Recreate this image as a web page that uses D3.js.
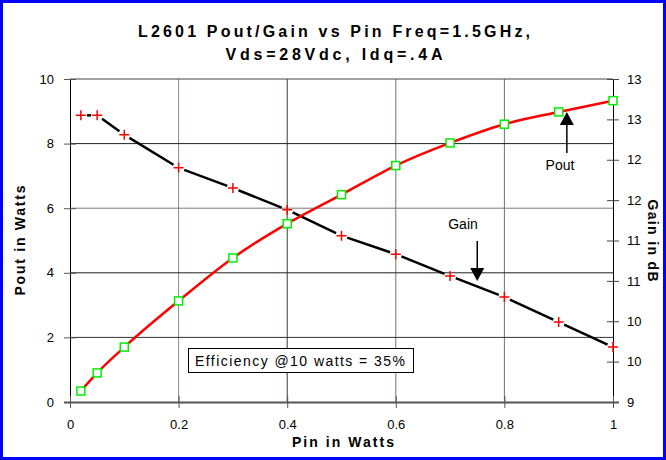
<!DOCTYPE html>
<html>
<head>
<meta charset="utf-8">
<script src="https://cdn.jsdelivr.net/npm/d3@7"></script>
<style>
  html, body { margin: 0; padding: 0; background: #fff; }
  svg { display: block; }
  text { font-family: "Liberation Sans", Arial, sans-serif; }
</style>
</head>
<body>
<svg id="chart" width="666" height="460"></svg>
<script>
// ---- data ----
const pin = [0.02, 0.05, 0.1, 0.2, 0.3, 0.4, 0.5, 0.6, 0.7, 0.8, 0.9, 1.0];
const pout = [0.34, 0.90, 1.70, 3.13, 4.46, 5.52, 6.42, 7.32, 8.02, 8.60, 8.98, 9.33];
const gain = [12.55, 12.55, 12.31, 11.90, 11.65, 11.38, 11.06, 10.83, 10.56, 10.30, 9.99, 9.68];
const xTicks = [0, 0.2, 0.4, 0.6, 0.8, 1];
const yLeftTicks = [0, 2, 4, 6, 8, 10];
const yRightTicks = [9, 9.5, 10, 10.5, 11, 11.5, 12, 12.5, 13];
const titleLines = ["L2601 Pout/Gain vs Pin Freq=1.5GHz,", "Vds=28Vdc, Idq=.4A"];
const note = "Efficiency @10 watts = 35%";

const svg = d3.select("#chart");
const L = 70, R = 613, T = 79, B = 402;

const x = d3.scaleLinear().domain([0, 1]).range([L, R]);
const yL = d3.scaleLinear().domain([0, 10]).range([B, T]);
const yR = d3.scaleLinear().domain([9, 13]).range([B, T]);

// background
svg.append("rect").attr("x", 0).attr("y", 0).attr("width", 666).attr("height", 460).attr("fill", "#fff");

// vertical gridlines
const vGridColor = {0.2: "#7d957d", 0.4: "#204a20", 0.6: "#5f7f5f", 0.8: "#5f7f5f"};
svg.append("g").selectAll("line").data(xTicks.filter(d => d > 0 && d < 1)).join("line")
  .attr("x1", d => x(d)).attr("x2", d => x(d)).attr("y1", T).attr("y2", B)
  .attr("stroke", d => vGridColor[d]).attr("stroke-width", 1);

// horizontal gridlines
const hGridColor = {2: "#333", 4: "#222", 6: "#777", 8: "#222", 10: "#444"};
svg.append("g").selectAll("line").data(yLeftTicks.filter(d => d > 0)).join("line")
  .attr("x1", L).attr("x2", R).attr("y1", d => yL(d)).attr("y2", d => yL(d))
  .attr("stroke", d => hGridColor[d]).attr("stroke-width", 1);

// left axis
const gl = svg.append("g").attr("transform", `translate(${L},0)`)
  .call(d3.axisLeft(yL).tickValues(yLeftTicks).tickFormat(d3.format("d")).tickSize(6).tickPadding(10));
gl.select(".domain").attr("stroke", "#000").attr("d", `M0.5,${T}V${B}`);
gl.selectAll(".tick line").attr("x1", 6).attr("x2", -6).attr("stroke", "#555");
gl.selectAll(".tick text").attr("font-size", 13).attr("fill", "#000").attr("font-family", "Liberation Sans, Arial, sans-serif");

// right axis
const gr = svg.append("g").attr("transform", `translate(${R},0)`)
  .call(d3.axisRight(yR).tickValues(yRightTicks).tickFormat(d3.format(".0f")).tickSize(6).tickPadding(8));
gr.select(".domain").attr("stroke", "#000").attr("d", `M0.5,${T}V${B}`);
gr.selectAll(".tick line").attr("x1", -6).attr("x2", 6).attr("stroke", "#444");
gr.selectAll(".tick text").attr("font-size", 13).attr("fill", "#000").attr("font-family", "Liberation Sans, Arial, sans-serif");

// bottom axis
const gb = svg.append("g").attr("transform", `translate(0,${B})`)
  .call(d3.axisBottom(x).tickValues(xTicks).tickFormat(d => d3.format("")(d)).tickSize(6).tickPadding(12));
gb.select(".domain").attr("stroke", "#555").attr("stroke-width", 2).attr("d", `M${L - 6},0.5H${R + 6}`);
gb.selectAll(".tick line").attr("y1", -6).attr("y2", 6).attr("stroke", "#555");
gb.selectAll(".tick text").attr("font-size", 13).attr("fill", "#000").attr("font-family", "Liberation Sans, Arial, sans-serif");

// Gain line: black segments with gaps around markers
const gpts = pin.map((p, i) => [x(p), yR(gain[i])]);
const gap = 6;
const segs = [];
for (let i = 0; i < gpts.length - 1; i++) {
  const [x1, y1] = gpts[i], [x2, y2] = gpts[i + 1];
  const len = Math.hypot(x2 - x1, y2 - y1);
  if (len <= 2 * gap) continue;
  const ux = (x2 - x1) / len, uy = (y2 - y1) / len;
  segs.push([x1 + ux * gap, y1 + uy * gap, x2 - ux * gap, y2 - uy * gap]);
}
svg.append("g").selectAll("line").data(segs).join("line")
  .attr("x1", d => d[0]).attr("y1", d => d[1]).attr("x2", d => d[2]).attr("y2", d => d[3])
  .attr("stroke", "#000").attr("stroke-width", 2.5);

// Pout line
const line = d3.line().x((d, i) => x(pin[i])).y(d => yL(d)).curve(d3.curveMonotoneX);
svg.append("path").datum(pout).attr("d", line)
  .attr("fill", "none").attr("stroke", "#ff0000").attr("stroke-width", 2.5);

// Gain markers (red plus)
svg.append("g").selectAll("path").data(gain).join("path")
  .attr("d", (d, i) => { const cx = x(pin[i]), cy = yR(d); return `M${cx - 5},${cy}H${cx + 5}M${cx},${cy - 5}V${cy + 5}`; })
  .attr("stroke", "#ff0000").attr("stroke-width", 1.5).attr("fill", "none");

// Pout markers (green squares)
svg.append("g").selectAll("rect").data(pout).join("rect")
  .attr("x", (d, i) => x(pin[i]) - 4).attr("y", d => yL(d) - 4)
  .attr("width", 8).attr("height", 8)
  .attr("fill", "#fff").attr("stroke", "#00ee00").attr("stroke-width", 1.5);

// title
svg.append("text").attr("x", 334).attr("y", 37).attr("text-anchor", "middle")
  .attr("font-size", 16).attr("font-weight", "bold").attr("textLength", 392).attr("lengthAdjust", "spacing")
  .text(titleLines[0]);
svg.append("text").attr("x", 334).attr("y", 60).attr("text-anchor", "middle")
  .attr("font-size", 16).attr("font-weight", "bold").attr("textLength", 217).attr("lengthAdjust", "spacing")
  .text(titleLines[1]);

// axis titles
svg.append("text").attr("transform", `translate(25,${(T + B) / 2}) rotate(-90)`).attr("text-anchor", "middle")
  .attr("font-size", 14).attr("font-weight", "bold").attr("textLength", 110).attr("lengthAdjust", "spacing")
  .text("Pout in Watts");
svg.append("text").attr("transform", `translate(648,${(T + B) / 2}) rotate(90)`).attr("text-anchor", "middle")
  .attr("font-size", 14).attr("font-weight", "bold").attr("textLength", 82).attr("lengthAdjust", "spacing")
  .text("Gain in dB");
svg.append("text").attr("x", 343).attr("y", 447).attr("text-anchor", "middle")
  .attr("font-size", 14).attr("font-weight", "bold").attr("textLength", 102).attr("lengthAdjust", "spacing")
  .text("Pin in Watts");

// efficiency note box
svg.append("rect").attr("x", 188.5).attr("y", 348.5).attr("width", 225).attr("height", 24)
  .attr("fill", "#fff").attr("stroke", "#000").attr("stroke-width", 1);
svg.append("text").attr("x", 195).attr("y", 365.5).attr("font-size", 14).attr("textLength", 210).attr("lengthAdjust", "spacing")
  .text(note);

// annotations with arrows
function arrow(x0, yStart, yTip, dir) {
  // dir: -1 up, +1 down
  const head = 13, hw = 7;
  svg.append("line").attr("x1", x0).attr("x2", x0).attr("y1", yStart).attr("y2", yTip - dir * head)
    .attr("stroke", "#000").attr("stroke-width", 1.5);
  svg.append("path").attr("d", `M${x0},${yTip}L${x0 - hw},${yTip - dir * head}L${x0 + hw},${yTip - dir * head}Z`)
    .attr("fill", "#000");
}
arrow(x(0.915), 153, 112, -1);
svg.append("text").attr("x", 560).attr("y", 170).attr("text-anchor", "middle").attr("font-size", 14).text("Pout");
arrow(x(0.75), 241, 281, 1);
svg.append("text").attr("x", 463).attr("y", 229).attr("text-anchor", "middle").attr("font-size", 14).text("Gain");

// blue frame
svg.append("rect").attr("x", 1.5).attr("y", 1.5).attr("width", 663).attr("height", 457)
  .attr("fill", "none").attr("stroke", "#0000ff").attr("stroke-width", 3);
</script>
</body>
</html>
